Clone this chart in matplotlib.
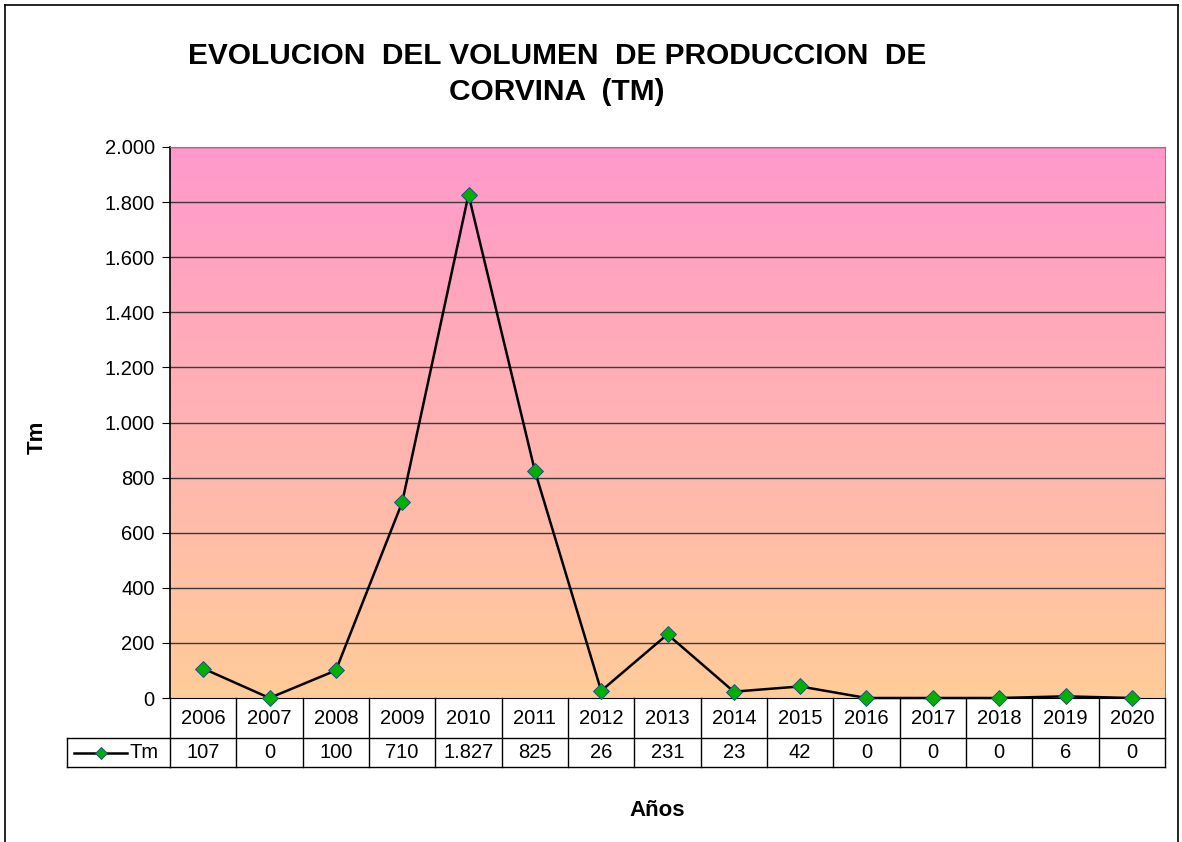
import numpy as np
import matplotlib.pyplot as plt
from matplotlib.colors import LinearSegmentedColormap
from matplotlib.lines import Line2D
from matplotlib.transforms import blended_transform_factory

plt.rcParams['font.family'] = ['Liberation Sans', 'DejaVu Sans']

years = ['2006', '2007', '2008', '2009', '2010', '2011', '2012', '2013',
         '2014', '2015', '2016', '2017', '2018', '2019', '2020']
tm = [107, 0, 100, 710, 1827, 825, 26, 231, 23, 42, 0, 0, 0, 6, 0]
y_ticks = [0, 200, 400, 600, 800, 1000, 1200, 1400, 1600, 1800, 2000]


def miles(v):
    return f"{v:,}".replace(",", ".")


W, H = 1182, 842
fig = plt.figure(figsize=(W / 100, H / 100), dpi=100)

# plot area in pixels: left 170, right 1165, top 147, bottom 698
L, R, T, B = 170, 1165, 147, 698
ax = fig.add_axes([L / W, 1 - B / H, (R - L) / W, (B - T) / H])

x = np.arange(len(years))
ax.set_xlim(-0.5, len(years) - 0.5)
ax.set_ylim(0, 2000)

# pink -> peach gradient background
cmap = LinearSegmentedColormap.from_list('bg', ['#FFCC99', '#FF99CC'])
grad = np.linspace(0, 1, 256).reshape(-1, 1)
ax.imshow(grad, extent=[-0.5, len(years) - 0.5, 0, 2000], origin='lower',
          aspect='auto', cmap=cmap, zorder=0)

for yv in y_ticks[1:]:
    ax.axhline(yv, color='#3a3a3a', lw=1.0, zorder=1)

ax.plot(x, tm, color='black', lw=1.8, marker='D', markersize=8,
        markerfacecolor='#00B000', markeredgecolor='#1f3f8f',
        markeredgewidth=0.6, zorder=3, clip_on=False)

fs = 14.5
ax.set_yticks(y_ticks)
ax.set_yticklabels([miles(v) for v in y_ticks], fontsize=fs)
ax.tick_params(axis='y', length=6, direction='out', pad=5)
ax.set_xticks([])
for s in ['top', 'right']:
    ax.spines[s].set_color('#808080')
ax.spines['left'].set_color('black')
ax.spines['left'].set_linewidth(1.2)
ax.spines['bottom'].set_color('black')

# data table under the plot
tr = blended_transform_factory(ax.transData, ax.transAxes)
ph = B - T
r1 = -40 / ph
r2 = -69 / ph
leg_x = (67 - L) / (R - L)
xl = len(years) - 0.5
kw = dict(color='black', lw=1.0, clip_on=False)
ax.plot([-0.5, xl], [r1, r1], transform=tr, **kw)
ax.plot([-0.5, xl], [r2, r2], transform=tr, **kw)
ax.plot([leg_x, 0], [r1, r1], transform=ax.transAxes, **kw)
ax.plot([leg_x, 0], [r2, r2], transform=ax.transAxes, **kw)
ax.plot([leg_x, leg_x], [r1, r2], transform=ax.transAxes, **kw)
for b in np.arange(-0.5, len(years)):
    ax.plot([b, b], [0, r2], transform=tr, **kw)

for i, (yr, v) in enumerate(zip(years, tm)):
    ax.text(i, r1 / 2, yr, transform=tr, ha='center', va='center', fontsize=fs)
    ax.text(i, (r1 + r2) / 2, miles(v), transform=tr, ha='center',
            va='center', fontsize=fs)

# legend key inside the table
ym = (r1 + r2) / 2
ax.add_line(Line2D([(74 - L) / (R - L), (127 - L) / (R - L)], [ym, ym],
                   transform=ax.transAxes, color='black', lw=1.8, clip_on=False))
ax.add_line(Line2D([(101 - L) / (R - L)], [ym], transform=ax.transAxes,
                   marker='D', markersize=6.5, markerfacecolor='#00B000',
                   markeredgecolor='#1f3f8f', markeredgewidth=0.6, clip_on=False))
ax.text((129 - L) / (R - L), ym, 'Tm', transform=ax.transAxes, ha='left',
        va='center', fontsize=fs)

fig.text(557 / W, 1 - 74 / H, 'EVOLUCION  DEL VOLUMEN  DE PRODUCCION  DE\nCORVINA  (TM)',
         ha='center', va='center', fontsize=21.5, fontweight='bold', linespacing=1.35)
fig.text(37 / W, 1 - 437 / H, 'Tm', rotation=90, ha='center', va='center',
         fontsize=16, fontweight='bold')
fig.text(657 / W, 1 - 810 / H, 'Años', ha='center', va='center',
         fontsize=16, fontweight='bold')

# outer chart frame
fr = dict(color='black', lw=1.2, transform=fig.transFigure)
fig.add_artist(Line2D([5 / W, 5 / W], [0, 1 - 5 / H], **fr))
fig.add_artist(Line2D([5 / W, 1178 / W], [1 - 5 / H, 1 - 5 / H], **fr))
fig.add_artist(Line2D([1178 / W, 1178 / W], [0, 1 - 5 / H], **fr))

fig.savefig('out.png', dpi=100)
